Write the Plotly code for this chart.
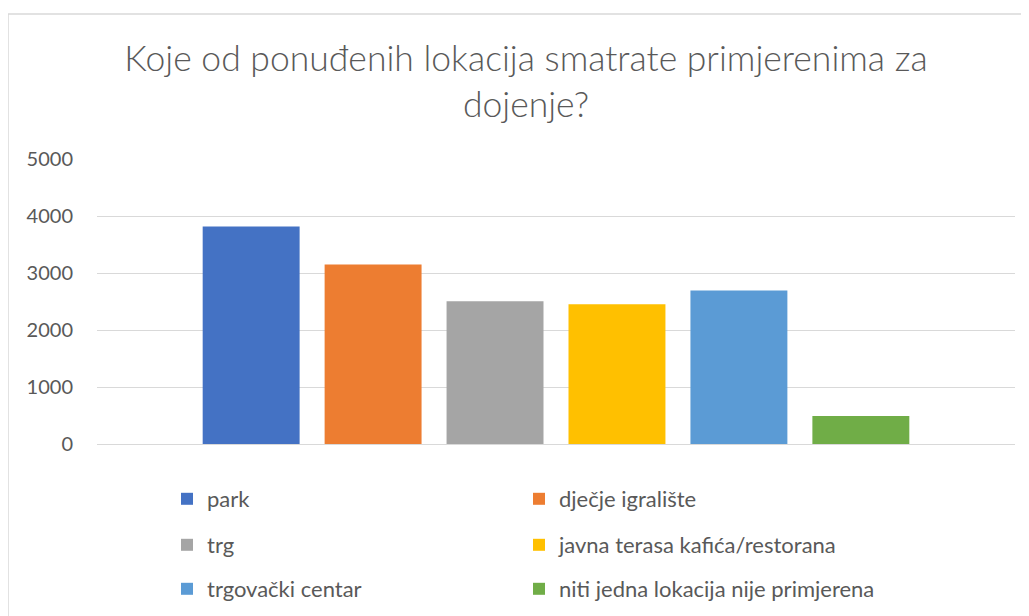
import plotly.graph_objects as go

# survey answers
categories = [
    "park",
    "dječje igralište",
    "trg",
    "javna terasa kafića/restorana",
    "trgovački centar",
    "niti jedna lokacija nije primjerena",
]
values = [3815, 3150, 2505, 2450, 2695, 490]
colors = ["#4472C4", "#ED7D31", "#A5A5A5", "#FFC000", "#5B9BD5", "#70AD47"]
y_ticks = [0, 1000, 2000, 3000, 4000, 5000]

title = "Koje od ponuđenih lokacija smatrate primjerenima za<br>dojenje?"

W, H = 1029, 616
OFF = 8  # page body margin shifts the figure by 8px
# plot area in screen pixels: x 97..1015, y 159..444
L = 97 - OFF
T = 159 - OFF
R = W - (1015 - OFF)
B = H - (444 - OFF)
plot_w = W - L - R
plot_h = H - T - B

text_col = "#595959"
font_family = "Lato, 'Open Sans', sans-serif"


def px_x(px):
    # screen px -> paper x
    return (px - OFF - L) / plot_w


def px_y(px):
    # screen px -> paper y
    return (H - B - (px - OFF)) / plot_h


# legend laid out as 2 columns x 3 rows, one legend box per entry
col_x = [167, 519]
row_y = [499, 545, 589]

fig = go.Figure()
legends = {}
for i, (name, val, col) in enumerate(zip(categories, values, colors)):
    key = "legend" if i == 0 else f"legend{i + 1}"
    fig.add_trace(go.Bar(
        x=[""],
        y=[val],
        name=name,
        marker=dict(color=col, line=dict(width=0)),
        legend=key,
        showlegend=True,
        hoverinfo="name+y",
    ))
    legends[key] = dict(
        orientation="h",
        xanchor="left",
        yanchor="middle",
        x=px_x(col_x[i % 2]),
        y=px_y(row_y[i // 2]),
        font=dict(size=22, color=text_col, family=font_family),
        bgcolor="rgba(0,0,0,0)",
    )

fig.update_layout(
    width=W,
    height=H,
    margin=dict(l=L, r=R, t=T, b=B),
    paper_bgcolor="white",
    plot_bgcolor="white",
    showlegend=True,
    barmode="group",
    bargap=0.203,
    bargroupgap=0.205,
    title=dict(
        text=title,
        x=(526 - OFF) / W,
        xanchor="center",
        y=1 - (71 - OFF) / H,
        yanchor="middle",
        font=dict(size=35.5, color=text_col, family=font_family, weight=300),
    ),
    xaxis=dict(showticklabels=False, showgrid=False, zeroline=False, showline=False),
    yaxis=dict(
        range=[0, 5000],
        tickvals=y_ticks,
        gridcolor="#d9d9d9",
        gridwidth=1,
        zeroline=True,
        zerolinecolor="#d9d9d9",
        zerolinewidth=1,
        showline=False,
        tickfont=dict(size=20, color=text_col, family=font_family),
        ticklabelstandoff=23,
    ),
    shapes=[dict(
        type="rect", xref="paper", yref="paper",
        x0=px_x(8), x1=px_x(1045), y0=px_y(14), y1=px_y(650),
        line=dict(color="#d9d9d9", width=1.5),
        fillcolor="rgba(0,0,0,0)",
        layer="below",
    )],
    **legends,
)

fig.write_html("out.html")
